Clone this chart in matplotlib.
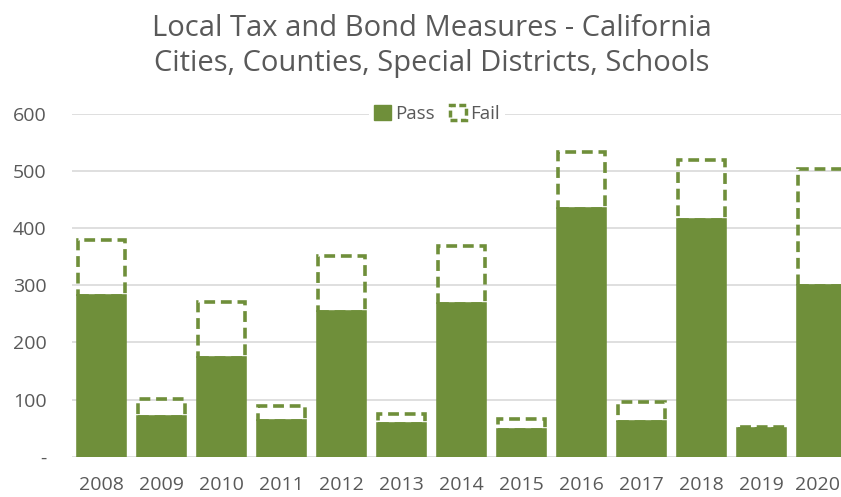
import matplotlib.pyplot as plt
import matplotlib.transforms as mtransforms
from matplotlib.patches import Patch

years = ['2008', '2009', '2010', '2011', '2012', '2013', '2014',
         '2015', '2016', '2017', '2018', '2019', '2020']
passed = [282, 69, 172, 63, 254, 58, 267, 47, 434, 60, 414, 48, 299]
failed = [97, 32, 98, 25, 98, 16, 102, 19, 100, 35, 106, 4, 204]
yticks = [0, 100, 200, 300, 400, 500, 600]
ytick_labels = ['-', '100', '200', '300', '400', '500', '600']

green = '#6f8f3a'
grey_txt = '#595959'
plt.rcParams['font.family'] = ['Open Sans', 'DejaVu Sans']

fig = plt.figure(figsize=(8.41, 4.97), dpi=100)
# right edge runs past the figure, the reference is cropped there
ax = fig.add_axes([71.7 / 841, 1 - 456.7 / 497, 780 / 841, 342.7 / 497])

x = list(range(len(years)))
# pass bars get an edge so they hide the bottom dash line of the fail box
ax.bar(x, passed, width=0.79, color=green, edgecolor=green, linewidth=2.6,
       zorder=3, label='Pass')
ax.bar(x, failed, width=0.79, bottom=passed, fill=False, edgecolor=green,
       linestyle=(0, (3, 1.6)), linewidth=2.6, zorder=2, label='Fail')

ax.set_xlim(-0.5, len(years) - 0.5)
ax.set_ylim(0, 600)
ax.set_yticks(yticks)
ax.set_yticklabels(ytick_labels)
ax.set_xticks(x)
ax.set_xticklabels(years)
ax.tick_params(axis='both', length=0, labelsize=14, colors=grey_txt)
ax.tick_params(axis='y', pad=18)
ax.tick_params(axis='x', pad=14)
ax.grid(axis='y', color='#d9d9d9', linewidth=1.2, zorder=0)
ax.set_axisbelow(True)
for s in ax.spines.values():
    s.set_visible(False)

# nudge the last year label so it stays inside the picture
last = ax.get_xticklabels()[-1]
last.set_transform(last.get_transform() +
                   mtransforms.ScaledTranslation(-4 / 100, 0, fig.dpi_scale_trans))

handles = [Patch(facecolor=green, edgecolor=green, label='Pass'),
           Patch(facecolor='none', edgecolor=green, linestyle=(0, (2, 1)),
                 linewidth=2.5, label='Fail')]
leg = fig.legend(handles=handles, loc='center', ncol=2,
                 bbox_to_anchor=(437 / 841, 1 - 114 / 497), frameon=True,
                 fontsize=13.5, handlelength=0.9, handleheight=0.9,
                 handletextpad=0.2, columnspacing=0.8, borderpad=0.3,
                 labelcolor=grey_txt)
leg.get_frame().set_facecolor('white')
leg.get_frame().set_edgecolor('none')
leg.get_frame().set_alpha(1)

fig.text(432 / 841, 1 - 28 / 497, 'Local Tax and Bond Measures - California',
         ha='center', va='center', fontsize=21, color=grey_txt)
fig.text(432 / 841, 1 - 63 / 497, 'Cities, Counties, Special Districts, Schools',
         ha='center', va='center', fontsize=21, color=grey_txt)

fig.savefig('out.png', dpi=100)
